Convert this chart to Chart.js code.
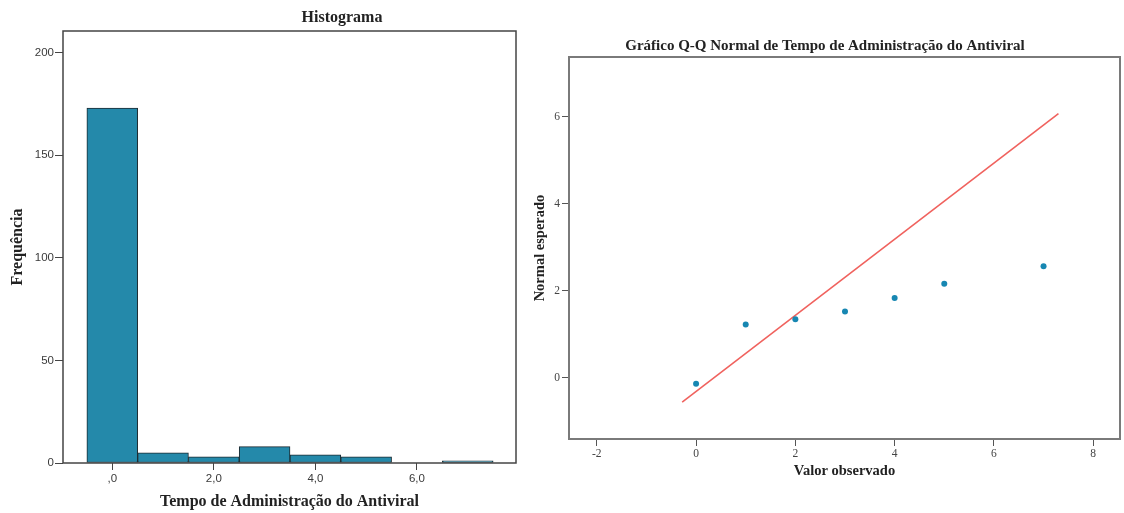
<!DOCTYPE html>
<html lang="pt">
<head>
<meta charset="utf-8">
<title>Histograma e Gráfico Q-Q</title>
<script src="https://cdn.jsdelivr.net/npm/chart.js@4.4.1/dist/chart.umd.min.js"></script>
<style>
  body { margin: 0; background: #fff; }
  #histWrap { position: absolute; left: 0; top: 0; width: 540px; height: 513px; }
  #qqWrap { position: absolute; left: 520px; top: 0; width: 604px; height: 513px; }
</style>
</head>
<body>
<div id="histWrap"><canvas id="graficoHist" width="540" height="513"></canvas></div>
<div id="qqWrap"><canvas id="graficoQQ" width="604" height="513"></canvas></div>
<script>
// dados do histograma
const classes = [0, 1, 2, 3, 4, 5, 6, 7];
const frequencias = [173, 5, 3, 8, 4, 3, 0, 1];
const histTicksX = [0, 2, 4, 6];
const histTicksY = [0, 50, 100, 150, 200];

// dados do gráfico Q-Q
const valorObservado = [0, 1, 2, 3, 4, 5, 7];
const normalEsperado = [-0.14, 1.22, 1.34, 1.52, 1.83, 2.16, 2.56];
const linhaX = [-0.28, 7.3];
const linhaY = [-0.56, 6.07];
const qqTicksX = [-2, 0, 2, 4, 6, 8];
const qqTicksY = [0, 2, 4, 6];

const serif = "'Liberation Serif', 'Times New Roman', serif";

// titulo desenhado numa posição fixa e moldura em volta da área do gráfico
const tituloPlugin = {
  id: "titulo",
  afterDraw(chart, args, opts) {
    const ctx = chart.ctx;
    ctx.save();
    ctx.font = opts.font;
    ctx.fillStyle = opts.color;
    ctx.textAlign = "center";
    ctx.textBaseline = "middle";
    ctx.fillText(opts.text, opts.x, opts.y);
    ctx.restore();
  }
};

const molduraPlugin = {
  id: "moldura",
  afterDatasetsDraw(chart, args, opts) {
    const { ctx, chartArea: a } = chart;
    ctx.save();
    ctx.strokeStyle = opts.color;
    ctx.lineWidth = opts.width;
    ctx.strokeRect(a.left, a.top, a.right - a.left, a.bottom - a.top);
    ctx.restore();
  }
};

const fixarTicks = (valores) => (scale) => {
  scale.ticks = valores.map((v) => ({ value: v }));
};

// ---------- Histograma ----------
new Chart(document.getElementById("graficoHist").getContext("2d"), {
  type: "bar",
  data: {
    datasets: [{
      label: "Frequência",
      data: classes.map((c, i) => ({ x: c, y: frequencias[i] })),
      backgroundColor: "#2489aa",
      borderColor: "#1c2a30",
      borderWidth: 1,
      borderSkipped: false,
      barPercentage: 1,
      categoryPercentage: 1
    }]
  },
  options: {
    responsive: false,
    animation: false,
    layout: { padding: { top: 31, right: 24, bottom: 0, left: 0 } },
    plugins: {
      legend: { display: false },
      tooltip: { enabled: false },
      titulo: { text: "Histograma", x: 342, y: 18, font: "bold 16px " + serif, color: "#222" },
      moldura: { color: "#444", width: 1.5 }
    },
    scales: {
      x: {
        type: "linear",
        offset: false,
        min: -0.97,
        max: 7.95,
        afterBuildTicks: fixarTicks(histTicksX),
        afterFit: (s) => { s.height = 50; },
        border: { display: false },
        grid: { offset: false, drawOnChartArea: false, tickLength: 7, color: "#444" },
        ticks: {
          padding: 2,
          color: "#3a3a3a",
          font: { family: "'Liberation Sans', Arial, sans-serif", size: 11.5 },
          callback: (v) => (v === 0 ? ",0" : v.toFixed(1).replace(".", ","))
        },
        title: {
          display: true,
          text: "Tempo de Administração do Antiviral",
          color: "#222",
          font: { family: serif, size: 16, weight: "bold" },
          padding: { top: 0, bottom: 2 }
        }
      },
      y: {
        min: 0,
        max: 210.5,
        afterBuildTicks: fixarTicks(histTicksY),
        afterFit: (s) => { s.width = 63; },
        border: { display: false },
        grid: { drawOnChartArea: false, tickLength: 8, color: "#444" },
        ticks: {
          padding: 1,
          color: "#3a3a3a",
          font: { family: "'Liberation Sans', Arial, sans-serif", size: 11.5 }
        },
        title: {
          display: true,
          text: "Frequência",
          color: "#222",
          font: { family: serif, size: 16, weight: "bold" },
          padding: { top: 8, bottom: 0 }
        }
      }
    }
  },
  plugins: [tituloPlugin, molduraPlugin]
});

// ---------- Gráfico Q-Q ----------
new Chart(document.getElementById("graficoQQ").getContext("2d"), {
  type: "scatter",
  data: {
    datasets: [
      {
        label: "Normal esperado",
        data: valorObservado.map((v, i) => ({ x: v, y: normalEsperado[i] })),
        backgroundColor: "#1787b2",
        borderColor: "#1787b2",
        pointRadius: 3,
        borderWidth: 0
      },
      {
        type: "line",
        label: "Referência",
        data: linhaX.map((v, i) => ({ x: v, y: linhaY[i] })),
        borderColor: "#f0625e",
        borderWidth: 1.6,
        pointRadius: 0,
        fill: false
      }
    ]
  },
  options: {
    responsive: false,
    animation: false,
    layout: { padding: { top: 57, right: 3, bottom: 0, left: 0 } },
    plugins: {
      legend: { display: false },
      tooltip: { enabled: false },
      titulo: {
        text: "Gráfico Q-Q Normal de Tempo de Administração do Antiviral",
        x: 305, y: 46, font: "bold 15px " + serif, color: "#222"
      },
      moldura: { color: "#7a7a7a", width: 2 }
    },
    scales: {
      x: {
        type: "linear",
        min: -2.56,
        max: 8.54,
        afterBuildTicks: fixarTicks(qqTicksX),
        afterFit: (s) => { s.height = 74; },
        border: { display: false },
        grid: { drawOnChartArea: false, tickLength: 7, color: "#555" },
        ticks: {
          padding: 1,
          color: "#444",
          font: { family: serif, size: 11.5 }
        },
        title: {
          display: true,
          text: "Valor observado",
          color: "#222",
          font: { family: serif, size: 14.5, weight: "bold" },
          padding: { top: 0, bottom: 32.6 }
        }
      },
      y: {
        min: -1.41,
        max: 7.37,
        afterBuildTicks: fixarTicks(qqTicksY),
        afterFit: (s) => { s.width = 49; },
        border: { display: false },
        grid: { drawOnChartArea: false, tickLength: 7, color: "#555" },
        ticks: {
          padding: 2,
          color: "#444",
          font: { family: serif, size: 11.5 }
        },
        title: {
          display: true,
          text: "Normal esperado",
          color: "#222",
          font: { family: serif, size: 14.5, weight: "bold" },
          padding: { top: 11.3, bottom: 0 }
        }
      }
    }
  },
  plugins: [tituloPlugin, molduraPlugin]
});
</script>
</body>
</html>
